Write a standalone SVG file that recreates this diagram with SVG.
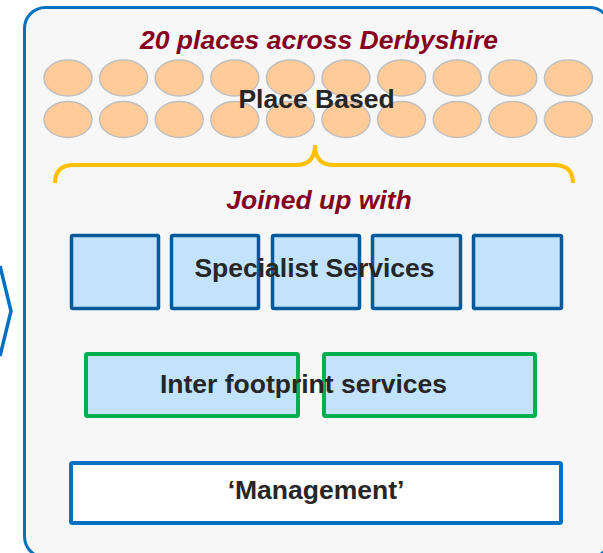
<svg xmlns="http://www.w3.org/2000/svg" width="603" height="553" viewBox="0 0 603 553">
<style>
.lbl{font-family:"Liberation Sans",Arial,sans-serif;font-weight:bold;font-size:26.5px;fill:#262626;text-anchor:middle}
.ttl{font-family:"Liberation Sans",Arial,sans-serif;font-weight:bold;font-style:italic;font-size:26.5px;fill:#85001F;text-anchor:middle}
.place{fill:#FFCC99;stroke:#BFBFBF;stroke-width:1.5}
.spec{fill:#C3E2FB;stroke:#005A9C;stroke-width:3.5}
.inter{fill:#C3E2FB;stroke:#00B050;stroke-width:4}
</style>
<rect width="603" height="553" fill="#ffffff"/>
<g id="chevron"><polyline points="0,266 11,311 0,356" fill="none" stroke="#0070C0" stroke-width="3.5"/></g>
<g id="container"><rect x="24.5" y="7.5" width="586" height="550" rx="21" fill="#F7F7F7" stroke="#0070C0" stroke-width="3"/></g>
<g id="title"><text class="ttl" x="319" y="49">20 places across Derbyshire</text></g>
<g id="place-based">
<ellipse class="place" cx="68" cy="78" rx="24" ry="18"/>
<ellipse class="place" cx="123.6" cy="78" rx="24" ry="18"/>
<ellipse class="place" cx="179.2" cy="78" rx="24" ry="18"/>
<ellipse class="place" cx="234.8" cy="78" rx="24" ry="18"/>
<ellipse class="place" cx="290.4" cy="78" rx="24" ry="18"/>
<ellipse class="place" cx="346" cy="78" rx="24" ry="18"/>
<ellipse class="place" cx="401.6" cy="78" rx="24" ry="18"/>
<ellipse class="place" cx="457.2" cy="78" rx="24" ry="18"/>
<ellipse class="place" cx="512.8" cy="78" rx="24" ry="18"/>
<ellipse class="place" cx="568.4" cy="78" rx="24" ry="18"/>
<ellipse class="place" cx="68" cy="119.5" rx="24" ry="18"/>
<ellipse class="place" cx="123.6" cy="119.5" rx="24" ry="18"/>
<ellipse class="place" cx="179.2" cy="119.5" rx="24" ry="18"/>
<ellipse class="place" cx="234.8" cy="119.5" rx="24" ry="18"/>
<ellipse class="place" cx="290.4" cy="119.5" rx="24" ry="18"/>
<ellipse class="place" cx="346" cy="119.5" rx="24" ry="18"/>
<ellipse class="place" cx="401.6" cy="119.5" rx="24" ry="18"/>
<ellipse class="place" cx="457.2" cy="119.5" rx="24" ry="18"/>
<ellipse class="place" cx="512.8" cy="119.5" rx="24" ry="18"/>
<ellipse class="place" cx="568.4" cy="119.5" rx="24" ry="18"/>
<text class="lbl" x="316.5" y="108">Place Based</text>
</g>
<g id="connectors"><path d="M55,183 Q55,165 74,165 L296,165 Q315,165 315,145 Q315,165 334,165 L554,165 Q573,165 573,183" fill="none" stroke="#FFC000" stroke-width="4"/></g>
<g id="joined"><text class="ttl" x="319" y="209">Joined up with</text></g>
<g id="specialist">
<rect class="spec" x="71.5" y="235.5" width="87" height="73" rx="1.5"/>
<rect class="spec" x="171.5" y="235.5" width="87" height="73" rx="1.5"/>
<rect class="spec" x="272.5" y="235.5" width="87" height="73" rx="1.5"/>
<rect class="spec" x="372.5" y="235.5" width="88" height="73" rx="1.5"/>
<rect class="spec" x="473.5" y="235.5" width="88" height="73" rx="1.5"/>
<text class="lbl" x="314.5" y="277">Specialist Services</text>
</g>
<g id="inter-footprint">
<rect class="inter" x="86" y="354" width="212" height="62" rx="1.5"/>
<rect class="inter" x="324" y="354" width="211" height="62" rx="1.5"/>
<text class="lbl" x="303.5" y="393">Inter footprint services</text>
</g>
<g id="management">
<rect x="71" y="463" width="490" height="60" rx="1.5" fill="#ffffff" stroke="#0070C0" stroke-width="4"/>
<text class="lbl" x="316" y="499">‘Management’</text>
</g>
</svg>
